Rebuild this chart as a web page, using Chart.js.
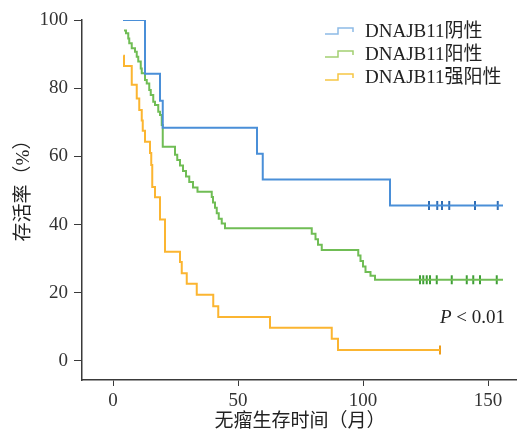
<!DOCTYPE html>
<html>
<head>
<meta charset="utf-8">
<script src="https://cdn.jsdelivr.net/npm/chart.js@4.4.1/dist/chart.umd.min.js"></script>
<style>
    html, body { margin: 0; padding: 0; background: #fff; }
</style>
</head>
<body>
<canvas id="kmChart" width="517" height="433"></canvas>
<script>
// --- data (months, survival %) ---
const groupLabels = ['DNAJB11阴性', 'DNAJB11阳性', 'DNAJB11强阳性'];

const negTimes = [4, 12.8, 18.8, 19.9, 57.6, 59.9, 110.8, 156];
const negSurv  = [100, 84.2, 76.3, 68.4, 60.8, 53.2, 45.6, 45.6];
const negCensor = [126.4, 129.7, 131.6, 134.5, 144.8, 153.9];

const posTimes = [4.4, 5.2, 6.1, 6.5, 7.5, 8.8, 9.5, 10.1, 11.1, 11.5, 12.8, 13.5, 14.5, 15.1, 16.1, 16.8, 18.1, 18.8, 19.5, 19.9,
    24.8, 25.7, 26.8, 28, 29.2, 30.5, 32, 33.8, 39.5, 40, 40.8, 41.5, 42.3, 43.5, 44.8,
    79.5, 81, 82, 83.5, 98.1, 99, 100, 101, 103, 104.8, 156];
const posSurv  = [96.9, 96.1, 94.6, 93.2, 91.7, 90.7, 89.2, 87.8, 85.8, 84.4, 82.4, 81.4, 79.5, 78, 76, 75.1, 73.1, 72.1, 69.2, 62.8,
    60.5, 58.9, 57.3, 55.7, 54.1, 52.5, 50.9, 49.6, 48.1, 46.5, 44.9, 43.3, 41.7, 40.3, 38.9,
    37.3, 35.7, 34.1, 32.5, 30.9, 29.3, 27.7, 26.1, 25, 23.8, 23.8];
const posCensor = [122.8, 124.1, 125.5, 126.8, 129.5, 135.5, 141.5, 144.1, 146.8, 153.5];

const strongTimes = [4.1, 4.4, 7.5, 9.5, 10.5, 11.5, 11.9, 12.8, 14.8, 15.3, 15.7, 16.8, 18.8, 20.8, 26.8, 27.5, 29.5, 33.5, 40.1, 42.1, 62.8, 87.5, 90, 130.8];
const strongSurv  = [89.5, 86.5, 81, 77, 73.6, 70.5, 67.5, 64.3, 61, 57.5, 51, 48, 41.5, 32, 29, 25.7, 22.6, 19.4, 16, 12.9, 9.7, 6.5, 3.2, 3.2];
const strongCensor = [130.8];

const xTicks = [0, 50, 100, 150];
const yTicks = [0, 20, 40, 60, 80, 100];

const lineColors = ['#4a8fd8', '#70bd55', '#fbb531'];
const markColors = ['#2f6db4', '#3e9f36', '#ee9d1c'];
const iconColors = ['#8dbbe6', '#a3cf72', '#f6c644'];

const serif = '"Liberation Serif", "Noto Sans CJK SC", serif';

function toPoints(times, surv) {
    return times.map((t, i) => ({ x: t, y: surv[i] }));
}

function survAt(times, surv, t) {
    let v = surv[0];
    for (let i = 0; i < times.length; i++) {
        if (times[i] <= t) v = surv[i];
    }
    return v;
}

function censorPoints(times, surv, censor) {
    return censor.map(t => ({ x: t, y: survAt(times, surv, t) }));
}

const groups = [
    [negTimes, negSurv, negCensor],
    [posTimes, posSurv, posCensor],
    [strongTimes, strongSurv, strongCensor]
];

const datasets = [];
groups.forEach((g, i) => {
    datasets.push({
        label: groupLabels[i],
        data: toPoints(g[0], g[1]),
        stepped: 'before',
        borderColor: lineColors[i],
        borderWidth: 2,
        pointRadius: 0,
        fill: false
    });
});
groups.forEach((g, i) => {
    datasets.push({
        label: groupLabels[i] + ' censor',
        data: censorPoints(g[0], g[1], g[2]),
        showLine: false,
        pointStyle: 'line',
        rotation: 90,
        pointRadius: 4.5,
        borderWidth: 2,
        borderColor: markColors[i],
        backgroundColor: markColors[i]
    });
});

const kmLegend = {
    id: 'kmLegend',
    afterDraw(chart) {
        const ctx = chart.ctx;
        ctx.save();
        groupLabels.forEach((label, i) => {
            const y = 32 + i * 23;
            ctx.strokeStyle = iconColors[i];
            ctx.lineWidth = 1.5;
            ctx.beginPath();
            ctx.moveTo(325, y + 2);
            ctx.lineTo(338, y + 2);
            ctx.lineTo(338, y - 4);
            ctx.lineTo(353, y - 4);
            ctx.lineTo(353, y);
            ctx.stroke();
            ctx.fillStyle = '#222';
            ctx.font = '19px ' + serif;
            ctx.textBaseline = 'middle';
            ctx.textAlign = 'left';
            ctx.fillText(label, 365, y);
        });
        // p value
        ctx.fillStyle = '#222';
        ctx.textBaseline = 'middle';
        ctx.font = 'italic 19px ' + serif;
        ctx.fillText('P', 440, 318);
        const pw = ctx.measureText('P').width;
        ctx.font = '19px ' + serif;
        ctx.fillText(' < 0.01', 440 + pw, 318);
        // x axis title
        ctx.textAlign = 'center';
        ctx.fillText('无瘤生存时间（月）', 300, 422);
        // y axis title
        ctx.translate(24, 186);
        ctx.rotate(-Math.PI / 2);
        ctx.fillText('存活率（%）', 0, 0);
        ctx.restore();
    }
};

const ctx = document.getElementById('kmChart').getContext('2d');
const kmChart = new Chart(ctx, {
    type: 'line',
    data: { datasets: datasets },
    options: {
        responsive: false,
        animation: false,
        layout: { autoPadding: false, padding: { top: 20, right: 0, left: 0, bottom: 0 } },
        plugins: {
            legend: { display: false },
            tooltip: { enabled: false }
        },
        scales: {
            x: {
                type: 'linear',
                min: -12.4,
                max: 161.6,
                afterBuildTicks: s => { s.ticks = xTicks.map(v => ({ value: v })); },
                afterFit: s => { s.height = 53; },
                border: { display: true, color: '#3a3a3a', width: 1.5 },
                grid: { drawOnChartArea: false, drawTicks: true, tickLength: 6, color: '#3a3a3a' },
                ticks: { color: '#333', font: { family: serif, size: 19 }, padding: 4, maxRotation: 0 }
            },
            y: {
                type: 'linear',
                min: -5.6,
                max: 100,
                afterBuildTicks: s => { s.ticks = yTicks.map(v => ({ value: v })); },
                afterFit: s => { s.width = 82; },
                border: { display: true, color: '#3a3a3a', width: 1.5 },
                grid: { drawOnChartArea: false, drawTicks: true, tickLength: 8, color: '#3a3a3a' },
                ticks: { color: '#333', font: { family: serif, size: 19 }, padding: 6 }
            }
        }
    },
    plugins: [kmLegend]
});
</script>
</body>
</html>
